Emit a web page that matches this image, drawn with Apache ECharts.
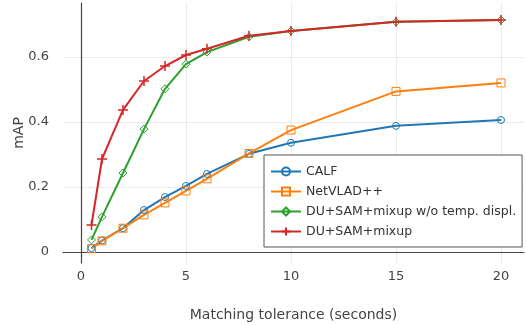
<!DOCTYPE html>
<html>
<head>
<meta charset="utf-8">
<script src="https://cdn.jsdelivr.net/npm/echarts@6/dist/echarts.min.js"></script>
<style>
  html, body { margin: 0; padding: 0; background: #fff; }
  #chart { width: 526px; height: 325px; }
</style>
</head>
<body>
<div id="chart"></div>
<script>
// tolerance in seconds
const tolerance = [0.5, 1, 2, 3, 4, 5, 6, 8, 10, 15, 20];

const calf = [0.012, 0.035, 0.073, 0.129, 0.169, 0.203, 0.240, 0.302, 0.336, 0.388, 0.406];
const netvlad = [0.010, 0.034, 0.073, 0.114, 0.151, 0.188, 0.225, 0.303, 0.375, 0.494, 0.520];
const duNoDispl = [0.037, 0.108, 0.243, 0.378, 0.502, 0.578, 0.615, 0.662, 0.680, 0.708, 0.714];
const duMixup = [0.083, 0.286, 0.437, 0.526, 0.572, 0.606, 0.625, 0.665, 0.680, 0.708, 0.714];

const names = ['CALF', 'NetVLAD++', 'DU+SAM+mixup w/o temp. displ.', 'DU+SAM+mixup'];
const colors = ['#1f77b4', '#ff7f0e', '#2ca02c', '#d62728'];
const symbols = ['circle', 'rect', 'diamond', 'path://M5,0L5,10M0,5L10,5'];
const sizes = [7, 8, 8, 10];
const values = [calf, netvlad, duNoDispl, duMixup];

const FONT = 'DejaVu Sans';

const chart = echarts.init(document.getElementById('chart'));

const series = values.map((vals, i) => ({
  name: names[i],
  type: 'line',
  data: tolerance.map((t, j) => [t, vals[j]]),
  symbol: symbols[i],
  symbolSize: sizes[i],
  showAllSymbol: true,
  lineStyle: { color: colors[i], width: 2 },
  itemStyle: {
    color: 'rgba(0,0,0,0)',
    borderColor: colors[i],
    borderWidth: i === 3 ? 1.5 : 1
  },
  emphasis: { disabled: true },
  animation: false
}));

const option = {
  animation: false,
  grid: { left: 63, right: 2, top: 3, bottom: 62, outerBoundsMode: 'none', containLabel: false },
  legend: {
    left: 264,
    top: 155,
    orient: 'vertical',
    backgroundColor: '#fff',
    borderColor: '#555',
    borderWidth: 1,
    borderRadius: 0,
    padding: [10, 6, 9, 6],
    itemGap: 7,
    itemWidth: 30,
    itemHeight: 10,
    textStyle: { fontFamily: FONT, fontSize: 12.5, color: '#333' },
    data: names
  },
  xAxis: {
    type: 'value',
    min: -0.857,
    max: 21.095,
    name: 'Matching tolerance (seconds)',
    nameLocation: 'middle',
    nameGap: 45,
    nameMoveOverlap: false,
    nameTextStyle: { fontFamily: FONT, fontSize: 14, color: '#444' },
    axisLine: { onZero: true, lineStyle: { color: '#444', width: 1.2 } },
    axisTick: { show: false },
    axisLabel: {
      fontFamily: FONT, fontSize: 13, color: '#444', margin: 7,
      showMinLabel: false, showMaxLabel: false
    },
    splitLine: {
      show: true, showMinLine: false, showMaxLine: false,
      lineStyle: { color: '#ebebeb', width: 1 }
    }
  },
  yAxis: {
    type: 'value',
    min: -0.034,
    max: 0.766,
    name: 'mAP',
    nameLocation: 'middle',
    nameGap: 37,
    nameMoveOverlap: false,
    nameTextStyle: { fontFamily: FONT, fontSize: 14, color: '#444' },
    axisLine: { onZero: true, lineStyle: { color: '#444', width: 1.2 } },
    axisTick: { show: false },
    axisLabel: {
      fontFamily: FONT, fontSize: 13, color: '#444', margin: 14,
      showMinLabel: false, showMaxLabel: false
    },
    splitLine: {
      show: true, showMinLine: false, showMaxLine: false,
      lineStyle: { color: '#ebebeb', width: 1 }
    }
  },
  series: series
};

chart.setOption(option);
</script>
</body>
</html>
